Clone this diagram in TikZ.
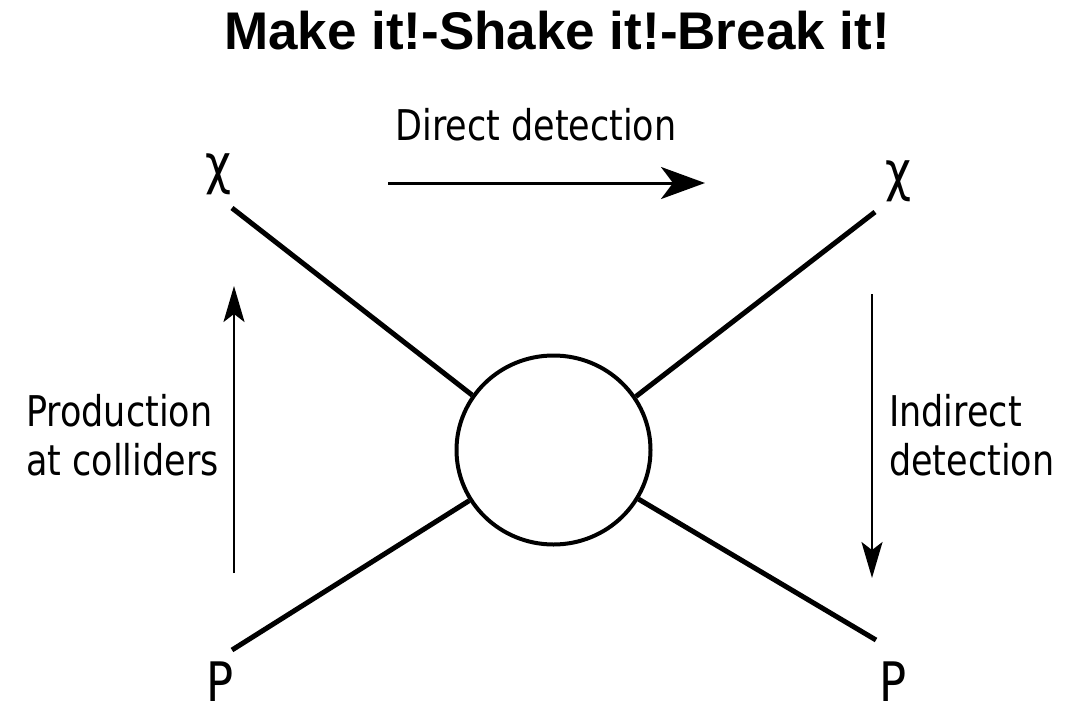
\documentclass[tikz,border=0pt]{standalone}
\usepackage{fontspec}
\usepackage{graphicx}
\setmainfont{DejaVu Sans}
\newfontfamily\titlefont{Liberation Sans}
\usetikzlibrary{arrows.meta,shapes.geometric}
% tall lettering used for every label of the diagram
\newcommand\tall[1]{\scalebox{1}[1.21]{#1}}
\newcommand\twolines[2]{\tall{\begin{tabular}[t]{@{}l@{}}#1\\#2\end{tabular}}}
\begin{document}
\begin{tikzpicture}[x=1pt,y=-1pt,
  leg/.style={line width=5pt},
  flowarrow/.style={line width=3pt,-{Stealth[length=44pt,width=32pt,inset=12pt]}},
  sidearrow/.style={line width=2.2pt,-{Stealth[length=36pt,width=21pt,inset=8pt]}},
  particle/.style={inner sep=0pt,font=\fontsize{45}{50}\selectfont},
  label/.style={inner sep=0pt,font=\fontsize{35}{41.3}\selectfont}]
\useasboundingbox (0,0) rectangle (1079,707);
% title
\node[inner sep=0pt,font=\titlefont\bfseries\fontsize{53}{60}\selectfont] (title) at (557,31) {Make it!-Shake it!-Break it!};
% central blob
\node[draw,line width=4pt,ellipse,minimum width=194pt,minimum height=189pt,inner sep=0pt] (blob) at (553.5,450) {};
% external legs
\coordinate (ulend) at (232,208);
\coordinate (urend) at (875,212);
\coordinate (llend) at (232,650);
\coordinate (lrend) at (876,640);
\draw[leg] (ulend) -- (blob.146.5);
\draw[leg] (urend) -- (blob.33.8);
\draw[leg] (llend) -- (blob.211.5);
\draw[leg] (lrend) -- (blob.330);
% particles
\node[particle] (chiL) at (218,174) {\tall{χ}};
\node[particle] (chiR) at (898.5,181.5) {\tall{χ}};
\node[particle,anchor=south] (pL) at (220,702) {\tall{P}};
\node[particle,anchor=south] (pR) at (893.5,702) {\tall{P}};
% processes
\coordinate (dA) at (388,183);
\coordinate (dB) at (705,183);
\draw[flowarrow] (dA) -- (dB);
\node[label,anchor=center] (direct) at (536,125) {\tall{Direct detection}};
\coordinate (pA) at (234,573);
\coordinate (pB) at (234,286);
\draw[sidearrow] (pA) -- (pB);
\node[label,anchor=base west] (prod) at (26,426) {\twolines{Production}{at colliders}};
\coordinate (iA) at (872,294);
\coordinate (iB) at (872,578);
\draw[sidearrow] (iA) -- (iB);
\node[label,anchor=base west] (indir) at (889,426) {\twolines{Indirect}{detection}};
\end{tikzpicture}
\end{document}
